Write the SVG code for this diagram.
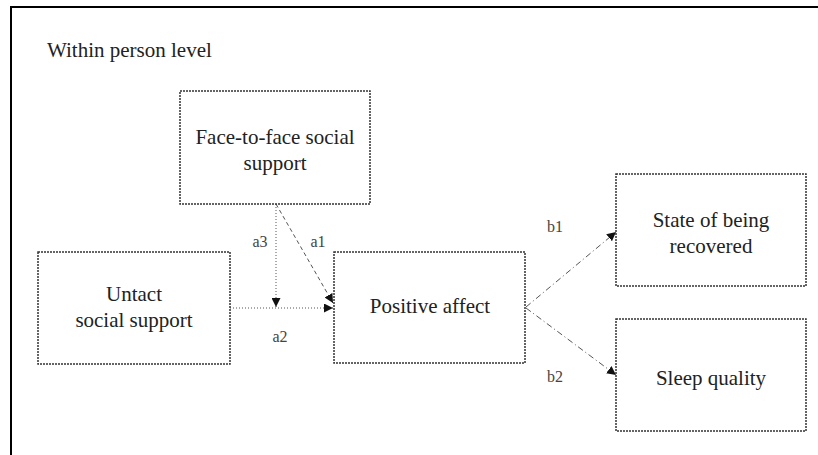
<svg xmlns="http://www.w3.org/2000/svg" width="818" height="455" viewBox="0 0 818 455">
<style>
.box{fill:#fff;stroke:#333;stroke-width:1.5;stroke-dasharray:2 1}
.t{font-size:21px;fill:#222;text-anchor:middle}
.lbl{font-size:16px;fill:#444;text-anchor:middle}
.c{fill:none;stroke:#555;stroke-width:1}
.dot{stroke-dasharray:1 2}
.dash{stroke-dasharray:4 3}
.dd{stroke-dasharray:6 3 1 3}
</style>
<defs>
<marker id="ah" viewBox="0 0 10 10" refX="10" refY="5" markerWidth="9" markerHeight="9" markerUnits="userSpaceOnUse" orient="auto">
<path d="M0,0 L10,5 L0,10 z" fill="#111"/>
</marker>
</defs>
<rect width="818" height="455" fill="#fff"/>
<path d="M11,455 V7 H818" fill="none" stroke="#000" stroke-width="2"/>
<g font-family="'Liberation Serif', 'Times New Roman', serif">
<text x="47" y="57" font-size="21" fill="#222">Within person level</text>
<g id="connectors">
<line class="c dot" x1="276" y1="204" x2="276" y2="307" marker-end="url(#ah)"/>
<line class="c dot" x1="230" y1="308" x2="333" y2="308" marker-end="url(#ah)"/>
<line class="c dash" x1="276" y1="204" x2="333" y2="303" marker-end="url(#ah)"/>
<line class="c dd" x1="526" y1="307" x2="616" y2="232" marker-end="url(#ah)"/>
<line class="c dd" x1="526" y1="308" x2="616" y2="375" marker-end="url(#ah)"/>
<text class="lbl" x="260" y="247">a3</text>
<text class="lbl" x="318" y="247">a1</text>
<text class="lbl" x="280" y="342">a2</text>
<text class="lbl" x="555" y="232">b1</text>
<text class="lbl" x="555" y="382">b2</text>
</g>
<g id="face">
<rect class="box" x="180" y="91" width="190" height="113"/>
<text class="t" x="275" y="144">Face-to-face social</text>
<text class="t" x="275" y="170">support</text>
</g>
<g id="untact">
<rect class="box" x="38" y="252" width="192" height="112"/>
<text class="t" x="134" y="301">Untact</text>
<text class="t" x="134" y="327">social support</text>
</g>
<g id="positive">
<rect class="box" x="334" y="252" width="191" height="111"/>
<text class="t" x="430" y="313">Positive affect</text>
</g>
<g id="recovered">
<rect class="box" x="616" y="174" width="190" height="112"/>
<text class="t" x="711" y="227">State of being</text>
<text class="t" x="711" y="253">recovered</text>
</g>
<g id="sleep">
<rect class="box" x="616" y="319" width="190" height="112"/>
<text class="t" x="711" y="385">Sleep quality</text>
</g>
</g>
</svg>
